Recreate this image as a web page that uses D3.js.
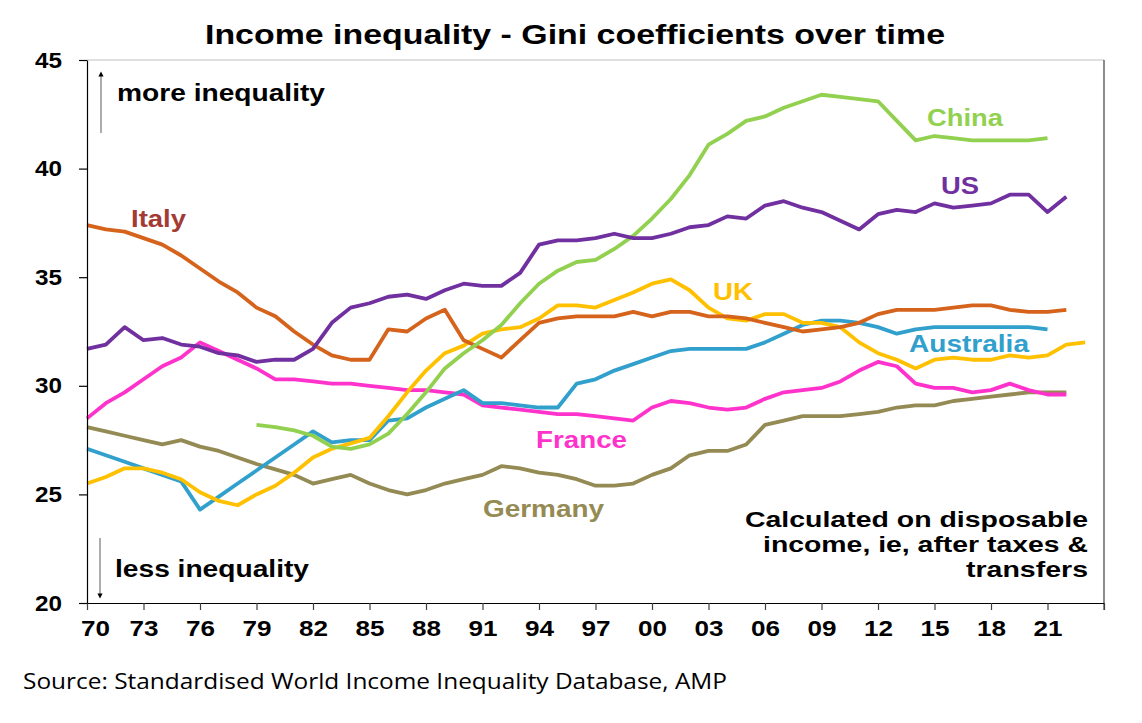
<!DOCTYPE html>
<html>
<head>
<meta charset="utf-8">
<script src="https://cdn.jsdelivr.net/npm/d3@7"></script>
<style>
  body { margin: 0; background: #fff; }
</style>
</head>
<body>
<svg id="chart"></svg>
<script>
// Gini coefficients, one value per year from each series' start year
const italyStart = 1970;
const italy = [37.4, 37.2, 37.1, 36.8, 36.5, 36.0, 35.4, 34.8, 34.3, 33.6,
  33.2, 32.5, 31.9, 31.4, 31.2, 31.2, 32.6, 32.5, 33.1, 33.5,
  32.1, 31.7, 31.3, 32.1, 32.9, 33.1, 33.2, 33.2, 33.2, 33.4,
  33.2, 33.4, 33.4, 33.2, 33.2, 33.1, 32.9, 32.7, 32.5, 32.6,
  32.7, 32.9, 33.3, 33.5, 33.5, 33.5, 33.6, 33.7, 33.7, 33.5,
  33.4, 33.4, 33.5];

const usStart = 1970;
const us = [31.7, 31.9, 32.7, 32.1, 32.2, 31.9, 31.8, 31.5, 31.4, 31.1,
  31.2, 31.2, 31.7, 32.9, 33.6, 33.8, 34.1, 34.2, 34.0, 34.4,
  34.7, 34.6, 34.6, 35.2, 36.5, 36.7, 36.7, 36.8, 37.0, 36.8,
  36.8, 37.0, 37.3, 37.4, 37.8, 37.7, 38.3, 38.5, 38.2, 38.0,
  37.6, 37.2, 37.9, 38.1, 38.0, 38.4, 38.2, 38.3, 38.4, 38.8,
  38.8, 38.0, 38.7];

const chinaStart = 1979;
const china = [28.2, 28.1, 27.95, 27.7, 27.2, 27.1, 27.3, 27.8, 28.7, 29.7, 30.8,
  31.5, 32.1, 32.8, 33.8, 34.7, 35.3, 35.7, 35.8, 36.3, 36.9,
  37.7, 38.6, 39.7, 41.1, 41.6, 42.2, 42.4, 42.8, 43.1, 43.4,
  43.3, 43.2, 43.1, 42.2, 41.3, 41.5, 41.4, 41.3, 41.3, 41.3,
  41.3, 41.4];

const ukStart = 1970;
const uk = [25.5, 25.8, 26.2, 26.2, 26.0, 25.7, 25.1, 24.7, 24.5, 25.0,
  25.4, 26.0, 26.7, 27.1, 27.35, 27.6, 28.6, 29.7, 30.7, 31.5,
  31.85, 32.4, 32.6, 32.7, 33.1, 33.7, 33.7, 33.6, 33.95, 34.3,
  34.7, 34.9, 34.4, 33.6, 33.1, 33.0, 33.3, 33.3, 32.9, 32.9,
  32.7, 32.0, 31.5, 31.2, 30.8, 31.2, 31.3, 31.2, 31.2, 31.4,
  31.3, 31.4, 31.9, 32.0];

const australiaStart = 1970;
const australia = [27.1, 26.8, 26.5, 26.2, 25.9, 25.6, 24.3, 24.9, 25.5, 26.1,
  26.7, 27.3, 27.9, 27.4, 27.5, 27.5, 28.4, 28.5, 29.0, 29.4,
  29.8, 29.2, 29.2, 29.1, 29.0, 29.0, 30.1, 30.3, 30.7, 31.0,
  31.3, 31.6, 31.7, 31.7, 31.7, 31.7, 32.0, 32.4, 32.8, 33.0,
  33.0, 32.9, 32.7, 32.4, 32.6, 32.7, 32.7, 32.7, 32.7, 32.7,
  32.7, 32.6];

const franceStart = 1970;
const france = [28.5, 29.2, 29.7, 30.3, 30.9, 31.3, 32.0, 31.6, 31.2, 30.8,
  30.3, 30.3, 30.2, 30.1, 30.1, 30.0, 29.9, 29.8, 29.8, 29.7,
  29.6, 29.1, 29.0, 28.9, 28.8, 28.7, 28.7, 28.6, 28.5, 28.4,
  29.0, 29.3, 29.2, 29.0, 28.9, 29.0, 29.4, 29.7, 29.8, 29.9,
  30.2, 30.7, 31.1, 30.9, 30.1, 29.9, 29.9, 29.7, 29.8, 30.1,
  29.8, 29.6, 29.6];

const germanyStart = 1970;
const germany = [28.1, 27.9, 27.7, 27.5, 27.3, 27.5, 27.2, 27.0, 26.7, 26.4,
  26.15, 25.9, 25.5, 25.7, 25.9, 25.5, 25.2, 25.0, 25.2, 25.5,
  25.7, 25.9, 26.3, 26.2, 26.0, 25.9, 25.7, 25.4, 25.4, 25.5,
  25.9, 26.2, 26.8, 27.0, 27.0, 27.3, 28.2, 28.4, 28.6, 28.6,
  28.6, 28.7, 28.8, 29.0, 29.1, 29.1, 29.3, 29.4, 29.5, 29.6,
  29.7, 29.7, 29.7];

const xTicks = [1970, 1973, 1976, 1979, 1982, 1985, 1988, 1991, 1994, 1997,
  2000, 2003, 2006, 2009, 2012, 2015, 2018, 2021, 2024];
const xTickLabels = ["70", "73", "76", "79", "82", "85", "88", "91", "94", "97",
  "00", "03", "06", "09", "12", "15", "18", "21", ""];
const yTicks = [20, 25, 30, 35, 40, 45];

const series = [
  { name: "Germany", start: germanyStart, values: germany, color: "#948A54", label: "#948A54", lx: 483, ly: 517, w: 121 },
  { name: "France", start: franceStart, values: france, color: "#FF33CC", label: "#FF33CC", lx: 536, ly: 448, w: 91 },
  { name: "Australia", start: australiaStart, values: australia, color: "#31A0CC", label: "#31A0CC", lx: 909, ly: 352, w: 120 },
  { name: "UK", start: ukStart, values: uk, color: "#FFC000", label: "#FFC000", lx: 713, ly: 300, w: 40 },
  { name: "Italy", start: italyStart, values: italy, color: "#D5631B", label: "#A33B34", lx: 131, ly: 227, w: 55 },
  { name: "China", start: chinaStart, values: china, color: "#92D050", label: "#92D050", lx: 927, ly: 126, w: 76 },
  { name: "US", start: usStart, values: us, color: "#7030A0", label: "#7030A0", lx: 941, ly: 194, w: 38 }
];

const width = 1142, height = 723;
const margin = { top: 60, right: 38, bottom: 120, left: 87 };
const chartWidth = width - margin.left - margin.right;
const chartHeight = height - margin.top - margin.bottom;

// the picture is a stretched spreadsheet chart, so text runs wider than the font
function fit(sel, w) {
  sel.attr("textLength", w).attr("lengthAdjust", "spacingAndGlyphs");
}

const svg = d3.select("#chart")
  .attr("width", width)
  .attr("height", height)
  .attr("viewBox", `0 0 ${width} ${height}`)
  .attr("font-family", "'Liberation Sans', Arial, sans-serif");

const x = d3.scaleLinear().domain([1970, 2024]).range([0, chartWidth]);
const y = d3.scaleLinear().domain([20, 45]).range([chartHeight, 0]);

// title
svg.append("text")
  .attr("x", 575)
  .attr("y", 44)
  .attr("text-anchor", "middle")
  .attr("font-size", 27)
  .attr("font-weight", "bold")
  .text("Income inequality - Gini coefficients over time")
  .call(fit, 740);

const g = svg.append("g")
  .attr("transform", `translate(${margin.left},${margin.top})`);

// top and right frame
g.append("line")
  .attr("x1", 0).attr("x2", chartWidth).attr("y1", 0).attr("y2", 0)
  .attr("stroke", "#bfbfbf").attr("stroke-width", 1.2);
g.append("line")
  .attr("x1", chartWidth).attr("x2", chartWidth).attr("y1", 0).attr("y2", chartHeight + 7)
  .attr("stroke", "#404040").attr("stroke-width", 1.2);

// lines
const line = d3.line()
  .x(d => x(d[0]))
  .y(d => y(d[1]));

series.forEach(s => {
  const pts = s.values.map((v, i) => [s.start + i, v]);
  g.append("path")
    .datum(pts)
    .attr("fill", "none")
    .attr("stroke", s.color)
    .attr("stroke-width", 3.8)
    .attr("stroke-linejoin", "round")
    .attr("d", line);

  svg.append("text")
    .attr("x", s.lx)
    .attr("y", s.ly)
    .attr("font-size", 24)
    .attr("font-weight", "bold")
    .attr("fill", s.label)
    .text(s.name)
    .call(fit, s.w);
});

// x axis
const xAxis = g.append("g")
  .attr("transform", `translate(0,${chartHeight})`)
  .call(d3.axisBottom(x)
    .tickValues(xTicks)
    .tickFormat((d, i) => xTickLabels[i])
    .tickSizeInner(7)
    .tickSizeOuter(0)
    .tickPadding(10));
xAxis.select(".domain").attr("stroke", "#000").attr("stroke-width", 1.2)
  .attr("d", `M-8,0.5H${chartWidth}`);
xAxis.selectAll(".tick line").attr("stroke", "#404040").attr("stroke-width", 1.2);
xAxis.selectAll(".tick text")
  .attr("font-size", 22)
  .attr("font-weight", "bold")
  .attr("fill", "#000")
  .attr("font-family", null)
  .attr("dx", (d, i) => i === 0 ? 8 : 0)
  .filter((d, i) => xTickLabels[i] !== "")
  .call(fit, 29);

// y axis
const yAxis = g.append("g")
  .call(d3.axisLeft(y)
    .tickValues(yTicks)
    .tickSizeInner(8)
    .tickSizeOuter(0)
    .tickPadding(17));
yAxis.select(".domain").attr("stroke", "#000").attr("stroke-width", 1.2);
yAxis.selectAll(".tick line").attr("stroke", "#000").attr("stroke-width", 1.2);
yAxis.selectAll(".tick text")
  .attr("font-size", 22)
  .attr("font-weight", "bold")
  .attr("fill", "#000")
  .attr("font-family", null)
  .call(fit, 27);

// arrows and notes
const defs = svg.append("defs");
defs.append("marker")
  .attr("id", "arrowhead")
  .attr("viewBox", "0 0 10 10")
  .attr("refX", 5).attr("refY", 5)
  .attr("markerWidth", 4).attr("markerHeight", 4)
  .attr("orient", "auto-start-reverse")
  .append("path")
  .attr("d", "M0,0L10,5L0,10Z")
  .attr("fill", "#000");

svg.append("line")
  .attr("x1", 101).attr("x2", 101).attr("y1", 133).attr("y2", 74)
  .attr("stroke", "#808080").attr("stroke-width", 1.3)
  .attr("marker-end", "url(#arrowhead)");
svg.append("line")
  .attr("x1", 100).attr("x2", 100).attr("y1", 538).attr("y2", 596)
  .attr("stroke", "#808080").attr("stroke-width", 1.3)
  .attr("marker-end", "url(#arrowhead)");

svg.append("text")
  .attr("x", 117).attr("y", 101)
  .attr("font-size", 23).attr("font-weight", "bold")
  .text("more inequality")
  .call(fit, 208);
svg.append("text")
  .attr("x", 115).attr("y", 577)
  .attr("font-size", 23).attr("font-weight", "bold")
  .text("less inequality")
  .call(fit, 194);

const note = ["Calculated on disposable", "income, ie, after taxes &", "transfers"];
const noteW = [343, 325, 122];
svg.append("text")
  .attr("y", 527)
  .attr("text-anchor", "end")
  .attr("font-size", 22).attr("font-weight", "bold")
  .selectAll("tspan")
  .data(note)
  .join("tspan")
  .attr("x", 1088)
  .attr("dy", (d, i) => i === 0 ? 0 : 25)
  .text(d => d)
  .each(function (d, i) { d3.select(this).call(fit, noteW[i]); });

svg.append("text")
  .attr("x", 23).attr("y", 689)
  .attr("font-size", 21)
  .attr("font-family", "'Open Sans', 'Noto Sans', sans-serif")
  .text("Source: Standardised World Income Inequality Database, AMP")
  .call(fit, 704);
</script>
</body>
</html>
